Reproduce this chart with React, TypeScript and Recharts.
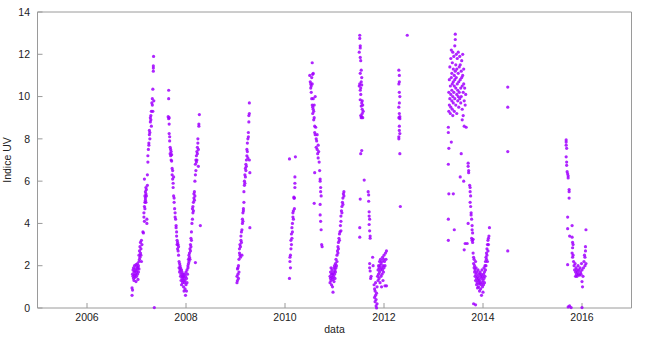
import React from 'react';
import { ScatterChart, Scatter, XAxis, YAxis } from 'recharts';

type Pt = [number, number];

// each array is one measuring season: [decimal year, UV index]
const season2007: Pt[] = [
  [2006.91, 0.95], [2006.91, 0.6], [2006.92, 0.85], [2006.92, 1.6], [2006.93, 1.5], [2006.93, 1.8],
  [2006.94, 1.4], [2006.94, 1.9], [2006.95, 1.7], [2006.95, 1.3], [2006.96, 1.55], [2006.96, 2.0],
  [2006.97, 1.75], [2006.97, 1.45], [2006.98, 1.85], [2006.98, 1.6], [2006.99, 1.25], [2006.99, 2.05],
  [2007.0, 1.7], [2007.0, 1.5], [2007.01, 1.95], [2007.01, 1.8], [2007.02, 1.6], [2007.02, 2.1],
  [2007.03, 1.35], [2007.03, 1.9], [2007.04, 2.0], [2007.04, 1.7], [2007.05, 2.2], [2007.05, 1.85],
  [2007.05, 2.5], [2007.06, 2.3], [2007.06, 2.7], [2007.07, 2.4], [2007.07, 2.9], [2007.08, 2.6],
  [2007.08, 3.1], [2007.09, 2.5], [2007.09, 2.8], [2007.1, 3.2], [2007.1, 2.2], [2007.11, 3.0],
  [2007.13, 3.6], [2007.14, 3.55], [2007.15, 4.3], [2007.15, 4.5], [2007.16, 4.1], [2007.16, 4.8],
  [2007.17, 5.0], [2007.17, 5.3], [2007.17, 4.7], [2007.18, 5.2], [2007.18, 5.5], [2007.18, 5.1],
  [2007.19, 5.4], [2007.19, 5.0], [2007.19, 5.7], [2007.2, 5.3], [2007.16, 6.1], [2007.2, 5.6],
  [2007.21, 4.2], [2007.21, 4.0], [2007.22, 6.3], [2007.22, 5.8], [2007.23, 6.9], [2007.23, 7.2],
  [2007.24, 7.5], [2007.25, 7.8], [2007.25, 7.7], [2007.26, 8.2], [2007.26, 8.4], [2007.27, 8.3],
  [2007.27, 8.0], [2007.28, 8.8], [2007.28, 9.0], [2007.29, 8.9], [2007.29, 9.1], [2007.3, 8.6],
  [2007.3, 9.3], [2007.31, 9.7], [2007.32, 9.9], [2007.32, 9.6], [2007.33, 10.35], [2007.33, 9.3],
  [2007.34, 11.2], [2007.34, 11.35], [2007.34, 11.45], [2007.345, 11.9], [2007.35, 9.8], [2007.36, 0.02],
];

const season2008: Pt[] = [
  [2007.65, 10.3], [2007.65, 9.9], [2007.64, 9.05], [2007.65, 8.95], [2007.66, 9.0], [2007.66, 8.7],
  [2007.66, 8.25], [2007.67, 8.1], [2007.67, 7.9], [2007.68, 7.6], [2007.68, 7.3], [2007.69, 7.5],
  [2007.69, 7.2], [2007.7, 7.4], [2007.7, 7.0], [2007.71, 6.95], [2007.71, 7.25], [2007.72, 6.6],
  [2007.72, 6.3], [2007.73, 6.5], [2007.73, 6.1], [2007.74, 5.9], [2007.74, 5.7], [2007.75, 6.2],
  [2007.75, 5.3], [2007.76, 5.2], [2007.76, 5.0], [2007.77, 4.7], [2007.78, 4.5], [2007.78, 4.3],
  [2007.79, 4.2], [2007.8, 3.9], [2007.8, 3.8], [2007.81, 3.6], [2007.81, 3.4], [2007.82, 3.2],
  [2007.82, 3.0], [2007.83, 3.1], [2007.83, 2.8], [2007.84, 3.0], [2007.84, 2.7], [2007.85, 2.5],
  [2007.85, 2.9], [2007.86, 2.2], [2007.86, 1.9], [2007.87, 2.1], [2007.87, 1.7], [2007.88, 1.8],
  [2007.88, 2.0], [2007.89, 1.5], [2007.89, 1.9], [2007.9, 1.6], [2007.9, 1.3], [2007.91, 1.8],
  [2007.91, 1.1], [2007.92, 1.4], [2007.92, 1.7], [2007.93, 1.2], [2007.93, 1.5], [2007.94, 1.6],
  [2007.94, 1.3], [2007.95, 1.0], [2007.95, 1.5], [2007.96, 1.4], [2007.96, 0.8], [2007.97, 1.2],
  [2007.97, 1.6], [2007.98, 0.9], [2007.98, 1.3], [2007.99, 1.5], [2007.99, 0.6], [2008.0, 1.1],
  [2008.0, 1.7], [2008.01, 1.4], [2008.01, 0.8], [2008.02, 1.8], [2008.02, 1.2], [2008.03, 1.6],
  [2008.04, 2.0], [2008.04, 1.9], [2008.05, 2.3], [2008.05, 2.1], [2008.06, 2.5], [2008.06, 2.2],
  [2008.07, 2.6], [2008.07, 2.4], [2008.08, 2.8], [2008.08, 2.3], [2008.09, 3.0], [2008.09, 2.7],
  [2008.1, 3.3], [2008.1, 2.9], [2008.11, 3.6], [2008.11, 3.2], [2008.19, 2.15], [2008.12, 4.0],
  [2008.13, 4.2], [2008.13, 4.7], [2008.14, 4.5], [2008.14, 4.8], [2008.15, 4.6], [2008.15, 5.0],
  [2008.16, 5.4], [2008.16, 5.2], [2008.17, 5.5], [2008.17, 5.1], [2008.18, 5.3], [2008.18, 6.0],
  [2008.19, 6.3], [2008.19, 6.8], [2008.2, 6.5], [2008.2, 7.0], [2008.21, 6.9], [2008.21, 7.2],
  [2008.22, 7.4], [2008.22, 7.0], [2008.23, 7.3], [2008.23, 7.6], [2008.24, 8.0], [2008.24, 7.8],
  [2008.25, 7.5], [2008.25, 6.7], [2008.26, 8.6], [2008.26, 8.7], [2008.27, 9.15], [2008.29, 3.9],
];

const season2009: Pt[] = [
  [2009.03, 1.2], [2009.03, 1.5], [2009.04, 1.3], [2009.04, 1.85], [2009.05, 1.6], [2009.05, 1.9],
  [2009.06, 1.4], [2009.06, 2.0], [2009.07, 2.3], [2009.07, 1.7], [2009.08, 2.6], [2009.08, 2.8],
  [2009.09, 2.5], [2009.09, 3.0], [2009.1, 2.9], [2009.1, 2.4], [2009.11, 3.2], [2009.11, 3.4],
  [2009.12, 3.1], [2009.12, 3.6], [2009.13, 3.7], [2009.13, 2.5], [2009.14, 4.0], [2009.14, 4.2],
  [2009.15, 4.5], [2009.15, 4.1], [2009.16, 4.7], [2009.16, 4.6], [2009.17, 5.0], [2009.17, 5.5],
  [2009.18, 5.8], [2009.18, 6.0], [2009.19, 6.3], [2009.19, 5.9], [2009.2, 6.2], [2009.2, 6.6],
  [2009.21, 6.8], [2009.21, 6.5], [2009.22, 7.0], [2009.22, 6.7], [2009.23, 7.2], [2009.23, 7.5],
  [2009.24, 7.4], [2009.24, 7.8], [2009.25, 7.1], [2009.25, 8.0], [2009.26, 8.3], [2009.26, 8.1],
  [2009.27, 8.8], [2009.27, 9.1], [2009.28, 9.2], [2009.28, 9.7], [2009.29, 6.4], [2009.29, 3.8],
  [2009.28, 7.0],
];

const season2010a: Pt[] = [
  [2010.09, 7.05], [2010.09, 1.4], [2010.1, 2.2], [2010.1, 2.4], [2010.11, 2.5], [2010.11, 1.9],
  [2010.12, 2.8], [2010.12, 3.2], [2010.13, 3.5], [2010.13, 3.0], [2010.14, 3.8], [2010.14, 3.3],
  [2010.15, 4.0], [2010.15, 3.6], [2010.16, 4.3], [2010.16, 4.5], [2010.17, 4.6], [2010.17, 4.2],
  [2010.18, 5.2], [2010.18, 5.25], [2010.19, 5.2], [2010.2, 5.7], [2010.2, 5.9], [2010.2, 6.2],
  [2010.21, 7.15], [2010.19, 4.7],
];

const season2010b: Pt[] = [
  [2010.55, 11.6], [2010.5, 11.0], [2010.51, 10.7], [2010.52, 10.4], [2010.52, 10.6], [2010.53, 10.2],
  [2010.53, 10.5], [2010.54, 10.9], [2010.55, 10.6], [2010.56, 11.05], [2010.57, 11.1], [2010.54, 9.9],
  [2010.55, 9.6], [2010.56, 9.5], [2010.56, 9.2], [2010.57, 9.4], [2010.57, 9.9], [2010.58, 9.3],
  [2010.58, 8.9], [2010.59, 9.6], [2010.59, 9.0], [2010.6, 8.6], [2010.6, 8.3], [2010.61, 8.2],
  [2010.62, 8.55], [2010.63, 8.0], [2010.63, 7.6], [2010.64, 7.9], [2010.65, 8.2], [2010.65, 7.5],
  [2010.66, 7.3], [2010.67, 7.7], [2010.67, 7.1], [2010.68, 7.4], [2010.69, 6.9], [2010.7, 6.5],
  [2010.71, 6.1], [2010.71, 6.0], [2010.72, 5.7], [2010.72, 5.5], [2010.73, 5.3], [2010.71, 4.9],
  [2010.71, 4.4], [2010.72, 4.1], [2010.73, 3.7], [2010.74, 3.0], [2010.75, 2.9], [2010.59, 4.95],
  [2010.6, 6.4], [2010.61, 10.0],
];

const season2011a: Pt[] = [
  [2010.91, 1.5], [2010.91, 1.2], [2010.92, 1.7], [2010.92, 1.4], [2010.93, 1.9], [2010.93, 1.3],
  [2010.94, 1.6], [2010.94, 1.1], [2010.95, 1.8], [2010.95, 1.45], [2010.96, 1.0], [2010.96, 1.6],
  [2010.97, 0.75], [2010.97, 1.35], [2010.98, 1.7], [2010.98, 1.5], [2010.99, 1.9], [2010.99, 1.25],
  [2011.0, 1.6], [2011.0, 2.0], [2011.01, 1.8], [2011.01, 1.4], [2011.02, 2.1], [2011.02, 1.7],
  [2011.03, 2.3], [2011.03, 1.9], [2011.04, 2.0], [2011.05, 2.5], [2011.05, 2.2], [2011.06, 2.7],
  [2011.07, 2.9], [2011.07, 2.6], [2011.08, 3.1], [2011.08, 2.8], [2011.09, 3.3], [2011.1, 3.5],
  [2011.1, 3.2], [2011.11, 3.6], [2011.12, 3.9], [2011.13, 4.1], [2011.13, 4.35], [2011.14, 4.6],
  [2011.15, 4.8], [2011.15, 4.5], [2011.16, 5.0], [2011.17, 5.2], [2011.17, 4.9], [2011.18, 5.4],
  [2011.19, 5.3], [2011.19, 5.5], [2011.13, 3.65],
];

const season2011b: Pt[] = [
  [2011.51, 12.9], [2011.51, 12.75], [2011.52, 12.3], [2011.5, 12.1], [2011.52, 12.4], [2011.53, 11.7],
  [2011.52, 11.85], [2011.52, 11.1], [2011.5, 10.5], [2011.51, 10.6], [2011.52, 10.3], [2011.53, 10.4],
  [2011.54, 10.7], [2011.55, 10.55], [2011.53, 10.1], [2011.52, 9.85], [2011.55, 9.7], [2011.54, 9.55],
  [2011.56, 9.8], [2011.56, 9.4], [2011.53, 9.1], [2011.54, 9.0], [2011.55, 9.05], [2011.56, 9.2],
  [2011.57, 9.0], [2011.57, 9.6], [2011.58, 9.3], [2011.54, 11.25], [2011.55, 10.9], [2011.53, 7.3],
  [2011.55, 7.45], [2011.6, 6.05], [2011.52, 5.15], [2011.51, 3.8], [2011.51, 3.35], [2011.68, 5.5],
  [2011.69, 5.35], [2011.69, 5.05], [2011.7, 4.55], [2011.7, 4.35], [2011.71, 4.2], [2011.7, 3.95],
  [2011.71, 3.65], [2011.72, 3.4], [2011.72, 3.3],
];

const season2012a: Pt[] = [
  [2011.71, 1.9], [2011.72, 1.75], [2011.73, 1.4], [2011.71, 2.1], [2011.77, 2.4], [2011.78, 2.0],
  [2011.74, 1.5], [2011.8, 1.1], [2011.81, 0.9], [2011.81, 0.5], [2011.82, 0.8], [2011.82, 0.3],
  [2011.83, 1.2], [2011.83, 0.6], [2011.84, 0.1], [2011.84, 0.4], [2011.85, 0.7], [2011.85, 0.0],
  [2011.86, 0.2], [2011.86, 1.0], [2011.87, 1.5], [2011.88, 1.8], [2011.88, 1.3], [2011.89, 2.0],
  [2011.89, 1.6], [2011.9, 1.9], [2011.9, 1.4], [2011.91, 2.2], [2011.91, 1.7], [2011.92, 2.0],
  [2011.92, 1.2], [2011.93, 1.8], [2011.93, 2.3], [2011.94, 1.5], [2011.94, 2.1], [2011.95, 1.9],
  [2011.95, 1.0], [2011.96, 2.2], [2011.96, 1.6], [2011.97, 2.4], [2011.97, 1.8], [2011.98, 2.0],
  [2011.98, 1.3], [2011.99, 2.3], [2011.99, 1.7], [2012.0, 2.5], [2012.0, 1.9], [2012.01, 2.2],
  [2012.02, 2.0], [2012.03, 2.6], [2012.04, 2.3], [2012.05, 2.7], [2012.02, 1.05], [2012.05, 1.05],
];

const season2012b: Pt[] = [
  [2012.47, 12.9], [2012.3, 11.25], [2012.31, 11.0], [2012.31, 10.7], [2012.3, 10.6], [2012.31, 10.2],
  [2012.32, 10.0], [2012.31, 9.7], [2012.3, 9.5], [2012.31, 9.2], [2012.3, 9.0], [2012.32, 8.95],
  [2012.31, 8.6], [2012.31, 8.4], [2012.32, 8.25], [2012.3, 8.0], [2012.32, 7.3], [2012.33, 4.8],
  [2012.3, 8.1], [2012.32, 9.05],
];

const season2013: Pt[] = [
  [2013.3, 8.55], [2013.3, 8.3], [2013.31, 9.3], [2013.31, 10.2], [2013.32, 9.6], [2013.32, 10.8],
  [2013.33, 11.4], [2013.33, 9.9], [2013.34, 10.5], [2013.34, 9.2], [2013.35, 11.8], [2013.35, 10.1],
  [2013.35, 9.5], [2013.36, 10.9], [2013.36, 12.2], [2013.37, 10.3], [2013.37, 11.1], [2013.37, 9.8],
  [2013.38, 10.6], [2013.38, 9.4], [2013.38, 11.6], [2013.39, 10.0], [2013.39, 12.1], [2013.39, 9.1],
  [2013.4, 10.7], [2013.4, 11.3], [2013.4, 9.7], [2013.41, 10.2], [2013.41, 11.9], [2013.42, 10.5],
  [2013.42, 9.3], [2013.42, 11.0], [2013.43, 12.4], [2013.43, 10.8], [2013.43, 9.9], [2013.44, 12.95],
  [2013.44, 12.7], [2013.44, 11.2], [2013.45, 10.4], [2013.45, 9.6], [2013.45, 11.5], [2013.46, 10.9],
  [2013.46, 12.0], [2013.47, 10.1], [2013.47, 11.3], [2013.47, 9.2], [2013.48, 10.6], [2013.48, 11.8],
  [2013.49, 9.8], [2013.49, 10.3], [2013.5, 11.1], [2013.5, 12.1], [2013.5, 10.0], [2013.51, 10.7],
  [2013.51, 9.5], [2013.52, 11.4], [2013.52, 10.2], [2013.53, 11.9], [2013.53, 9.9], [2013.54, 10.8],
  [2013.54, 11.5], [2013.55, 10.4], [2013.55, 9.7], [2013.56, 11.2], [2013.56, 10.0], [2013.57, 10.9],
  [2013.57, 11.7], [2013.58, 9.4], [2013.58, 10.5], [2013.59, 11.0], [2013.59, 12.0], [2013.6, 10.2],
  [2013.6, 9.1], [2013.61, 10.6], [2013.61, 11.3], [2013.62, 9.8], [2013.63, 10.4], [2013.64, 9.6],
  [2013.65, 10.1], [2013.62, 8.6], [2013.58, 8.9], [2013.66, 8.55], [2013.36, 7.85], [2013.31, 7.55],
  [2013.56, 7.3], [2013.3, 6.8], [2013.31, 5.4], [2013.4, 5.4], [2013.3, 4.2], [2013.42, 3.7],
  [2013.3, 3.2], [2013.54, 6.2], [2013.61, 6.0], [2013.62, 2.75], [2013.64, 3.05], [2013.68, 3.05],
];

const season2014: Pt[] = [
  [2013.7, 6.85], [2013.7, 6.7], [2013.71, 6.5], [2013.71, 6.4], [2013.73, 5.8], [2013.74, 5.7],
  [2013.74, 5.5], [2013.75, 5.3], [2013.74, 5.0], [2013.75, 4.8], [2013.76, 4.5], [2013.76, 4.4],
  [2013.77, 4.2], [2013.78, 3.9], [2013.78, 3.7], [2013.79, 3.55], [2013.77, 3.3], [2013.78, 3.2],
  [2013.79, 3.1], [2013.8, 3.25], [2013.7, 4.0], [2013.8, 2.6], [2013.81, 2.4], [2013.81, 2.1],
  [2013.82, 2.3], [2013.82, 1.9], [2013.83, 2.0], [2013.83, 1.7], [2013.84, 1.8], [2013.84, 1.5],
  [2013.85, 2.2], [2013.85, 1.3], [2013.86, 1.6], [2013.86, 1.9], [2013.87, 1.4], [2013.87, 1.1],
  [2013.88, 1.7], [2013.88, 1.2], [2013.89, 1.5], [2013.89, 0.95], [2013.9, 1.3], [2013.9, 1.8],
  [2013.91, 1.0], [2013.91, 1.4], [2013.92, 1.6], [2013.92, 1.15], [2013.93, 1.3], [2013.93, 0.8],
  [2013.94, 1.7], [2013.94, 1.2], [2013.95, 1.5], [2013.95, 0.9], [2013.96, 1.1], [2013.96, 1.6],
  [2013.97, 1.4], [2013.97, 0.6], [2013.98, 1.2], [2013.98, 1.8], [2013.99, 1.0], [2013.99, 1.5],
  [2014.0, 1.3], [2014.0, 0.75], [2014.01, 1.6], [2014.01, 1.1], [2014.02, 1.4], [2014.02, 1.9],
  [2014.03, 1.2], [2014.03, 1.7], [2014.04, 2.0], [2014.04, 1.5], [2014.05, 2.2], [2014.05, 1.8],
  [2014.06, 2.4], [2014.06, 2.0], [2014.07, 2.6], [2014.07, 2.3], [2014.08, 2.8], [2014.08, 2.5],
  [2014.09, 3.0], [2014.09, 2.2], [2014.1, 3.2], [2014.1, 2.7], [2014.11, 3.3], [2014.11, 3.0],
  [2014.12, 3.4], [2014.13, 3.8], [2013.81, 0.2], [2013.85, 0.15],
  [2014.5, 10.45], [2014.5, 9.5], [2014.5, 7.4], [2014.5, 2.7],
];

const season2016: Pt[] = [
  [2015.68, 7.95], [2015.68, 7.85], [2015.68, 7.7], [2015.69, 7.55], [2015.68, 7.15], [2015.69, 6.9],
  [2015.69, 6.75], [2015.7, 6.45], [2015.71, 6.35], [2015.72, 6.25], [2015.72, 6.15], [2015.74, 5.6],
  [2015.74, 5.5], [2015.74, 5.2], [2015.71, 4.3], [2015.71, 3.75], [2015.8, 3.9], [2015.75, 3.4],
  [2015.8, 3.35], [2015.81, 3.1], [2015.82, 3.0], [2015.81, 2.85], [2015.71, 2.05], [2015.8, 2.6],
  [2015.81, 2.4], [2015.82, 2.5], [2015.83, 2.2], [2015.84, 2.0], [2015.85, 1.8], [2015.86, 2.1],
  [2015.87, 1.7], [2015.87, 1.5], [2015.88, 1.9], [2015.89, 1.6], [2015.9, 1.8], [2015.9, 1.5],
  [2015.91, 1.7], [2015.92, 2.0], [2015.93, 1.6], [2015.94, 1.8], [2015.95, 1.55], [2015.96, 1.9],
  [2015.97, 1.7], [2015.98, 1.6], [2015.99, 2.1], [2016.0, 1.8], [2016.0, 1.25], [2016.01, 1.0],
  [2016.02, 1.5], [2016.03, 1.9], [2016.04, 2.2], [2016.05, 2.5], [2016.06, 2.4], [2016.07, 2.7],
  [2016.07, 2.9], [2016.08, 3.7], [2016.08, 2.1], [2016.06, 2.0], [2015.75, 0.1], [2015.78, 0.02],
  [2016.0, 0.02], [2015.72, 0.05],
];

const seasons = [
  season2007, season2008, season2009, season2010a, season2010b, season2011a,
  season2011b, season2012a, season2012b, season2013, season2014, season2016,
];

const yearTicks = [2006, 2008, 2010, 2012, 2014, 2016];
const uvTicks = [0, 2, 4, 6, 8, 10, 12, 14];

const data = seasons.flat().map(([date, uv]) => ({ date, uv }));

const font = { fontFamily: '"Liberation Sans", Arial, sans-serif', fontSize: 10.5, fill: '#222' };
const border = '#9a9a9a';

const Dot = (props: any) => (
  <circle cx={props.cx} cy={props.cy} r={1.6} fill="#a100ff" fillOpacity={0.85} />
);

export default function App() {
  return (
    <div style={{ position: 'absolute', left: 0, top: 0, background: '#fff' }}>
      <ScatterChart width={650} height={340} margin={{ top: 11, right: 17.5, bottom: 5, left: 7.5 }}>
        <XAxis
          type="number"
          dataKey="date"
          domain={[2005, 2017]}
          ticks={yearTicks}
          height={27}
          tickSize={-5}
          tickMargin={11}
          tick={font}
          stroke={border}
          label={{ value: 'data', position: 'insideBottom', offset: 2, style: { ...font, textAnchor: 'middle' } }}
        />
        <XAxis
          xAxisId="top"
          orientation="top"
          type="number"
          domain={[2005, 2017]}
          ticks={yearTicks}
          height={1}
          tickSize={-5}
          tick={false}
          stroke={border}
        />
        <YAxis
          type="number"
          dataKey="uv"
          domain={[0, 14]}
          ticks={uvTicks}
          width={30}
          tickSize={-5}
          tickMargin={12.5}
          tick={font}
          stroke={border}
          label={{ value: 'Indice UV', angle: -90, position: 'insideLeft', offset: 0, style: { ...font, textAnchor: 'middle' } }}
        />
        <YAxis
          yAxisId="right"
          orientation="right"
          type="number"
          domain={[0, 14]}
          ticks={uvTicks}
          width={1}
          tickSize={-5}
          tick={false}
          stroke={border}
        />
        <Scatter data={data} shape={Dot} isAnimationActive={false} />
      </ScatterChart>
    </div>
  );
}
